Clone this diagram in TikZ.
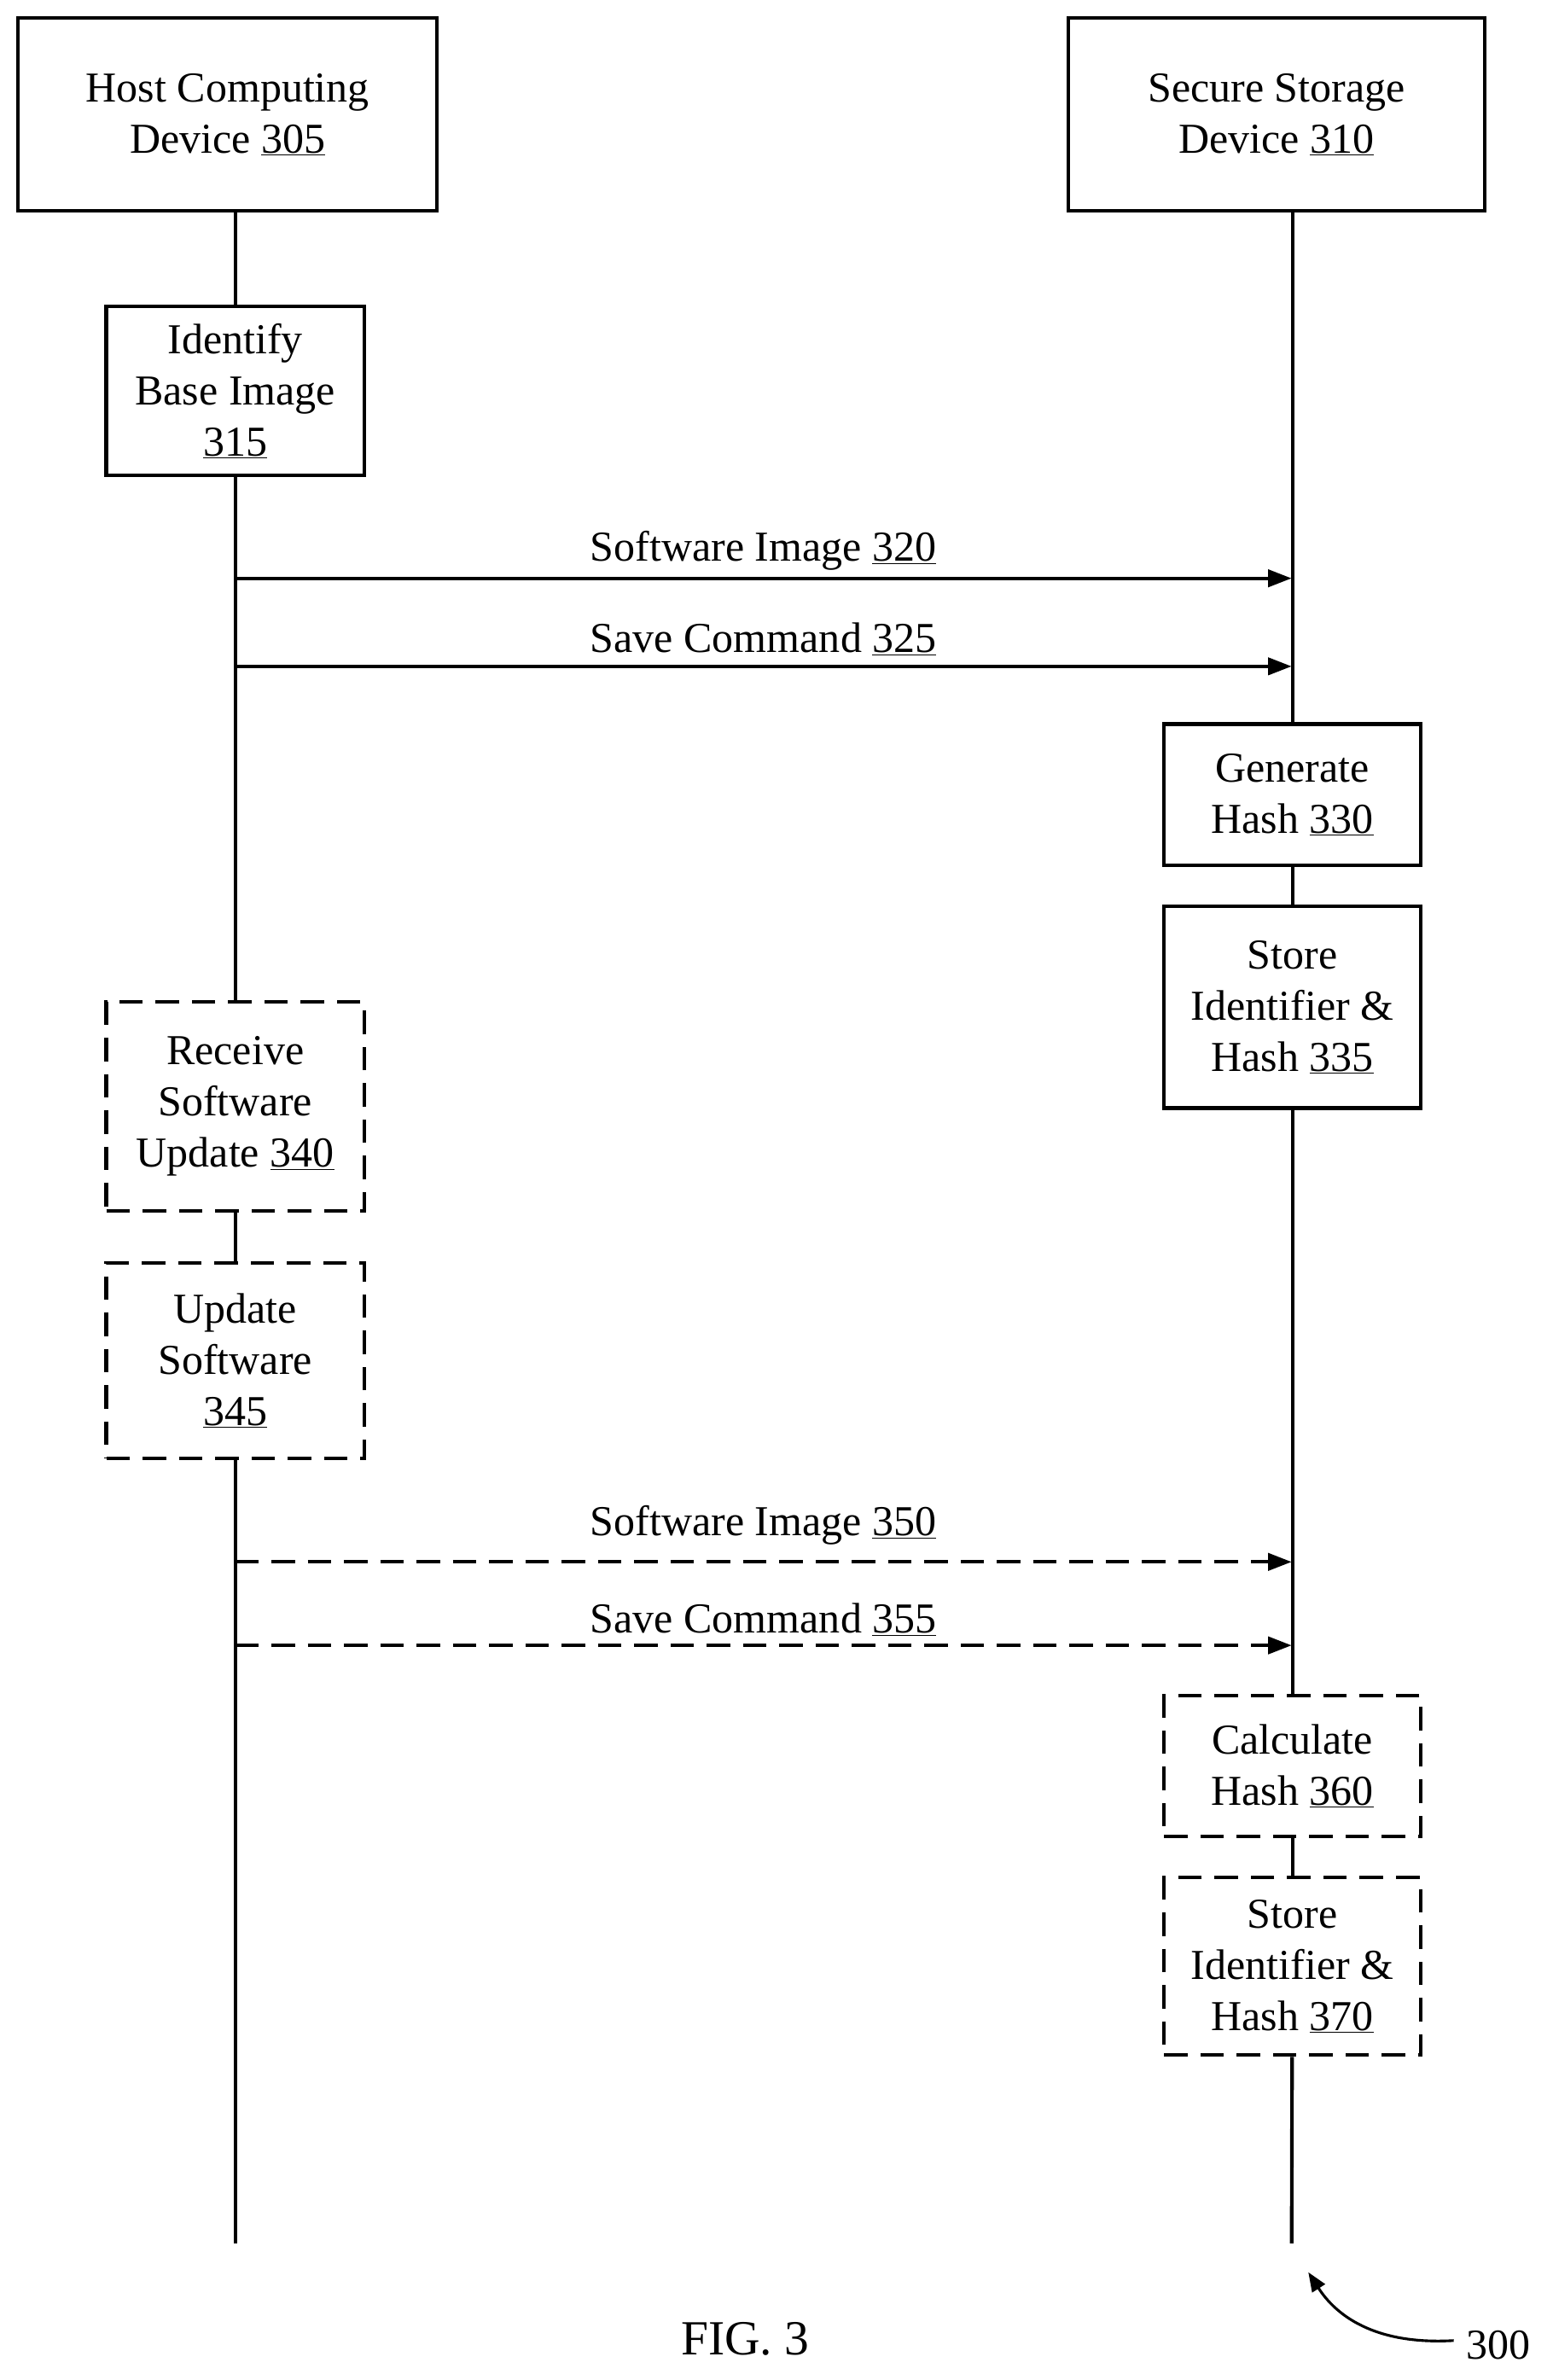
\documentclass[tikz,border=0pt]{standalone}
\usepackage{fontspec}
\setmainfont{Liberation Serif}
\usetikzlibrary{arrows.meta}
\begin{document}
\begin{tikzpicture}[x=0.05cm,y=-0.05cm,
  box/.style={draw,line width=3.3pt,fill=white,align=center,font=\fontsize{40}{48}\selectfont,inner sep=0pt},
  dbox/.style={box,dash pattern=on 22pt off 12pt},
  life/.style={line width=3.3pt},
  msg/.style={line width=3.3pt,-{Triangle[length=22pt,width=16pt]}},
  dmsg/.style={msg,dash pattern=on 22pt off 12pt},
  lbl/.style={font=\fontsize{40}{48}\selectfont,inner sep=0pt}]
\useasboundingbox (0,0) rectangle (1023,1568);
\node[box,minimum width={276*0.05cm},minimum height={127*0.05cm}] (host) at (150,75.5) {Host Computing\\Device \underline{305}};
\node[box,minimum width={274*0.05cm},minimum height={127*0.05cm}] (sec) at (841,75.5) {Secure Storage\\Device \underline{310}};
\node[box,minimum width={170*0.05cm},minimum height={111*0.05cm}] (b315) at (155,257.5) {Identify\\Base Image\\\underline{315}};
\node[box,minimum width={169*0.05cm},minimum height={93*0.05cm}] (b330) at (851.5,523.5) {Generate\\Hash \underline{330}};
\node[box,minimum width={169*0.05cm},minimum height={133*0.05cm}] (b335) at (851.5,663.5) {Store\\Identifier \&\\Hash \underline{335}};
\node[dbox,minimum width={170*0.05cm},minimum height={138*0.05cm}] (b340) at (155,729) {Receive\\Software\\Update \underline{340}};
\node[dbox,minimum width={170*0.05cm},minimum height={129*0.05cm}] (b345) at (155,896.5) {Update\\Software\\\underline{345}};
\node[dbox,minimum width={169*0.05cm},minimum height={93*0.05cm}] (b360) at (851.5,1163.5) {Calculate\\Hash \underline{360}};
\node[dbox,minimum width={169*0.05cm},minimum height={117*0.05cm}] (b370) at (851.5,1295.5) {Store\\Identifier \&\\Hash \underline{370}};
\coordinate (lend) at (155,1478);
\coordinate (rend) at (851,1478);
\coordinate (l320) at (155,381); \coordinate (r320) at (851,381);
\coordinate (l325) at (155,439); \coordinate (r325) at (851,439);
\coordinate (l350) at (155,1029); \coordinate (r350) at (851,1029);
\coordinate (l355) at (155,1084); \coordinate (r355) at (851,1084);
\draw[life] (host.south -| b315) -- (b315.north);
\draw[life] (b315) -- (b340);
\draw[life] (b340) -- (b345);
\draw[life] (b345) -- (lend);
\draw[life] (sec.south -| b330) -- (b330.north);
\draw[life] (b330) -- (b335);
\draw[life] (b335) -- (b360);
\draw[life] (b360) -- (b370);
\draw[life] (b370) -- (rend);
\draw[msg] (l320) -- (r320);
\draw[msg] (l325) -- (r325);
\draw[dmsg] (l350) -- (r350);
\draw[dmsg] (l355) -- (r355);
\node[lbl] (t320) at (503,363) {Software Image \underline{320}};
\node[lbl] (t325) at (503,421) {Save Command \underline{325}};
\node[lbl] (t350) at (503,1005) {Software Image \underline{350}};
\node[lbl] (t355) at (503,1067) {Save Command \underline{355}};
\node[lbl,font=\fontsize{46}{50}\selectfont] (fig) at (491,1541) {FIG. 3};
\node[lbl] (n300) at (987,1545) {300};
\draw[line width=2.5pt,-{Triangle[length=18pt,width=14pt]}] (n300.west) ++(-8,-3) coordinate (c0) (c0) .. controls (905,1545) and (880,1525) .. (862,1497);
\end{tikzpicture}
\end{document}
